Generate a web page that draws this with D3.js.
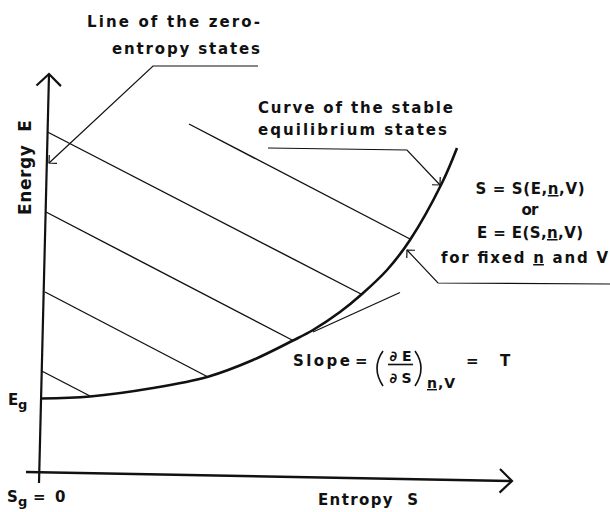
<!DOCTYPE html>
<html lang="en">
<head>
<meta charset="UTF-8">
<title>Energy versus entropy</title>
<script src="https://d3js.org/d3.v7.min.js"></script>
<style>
  body { margin: 0; background: white; }
  svg { display: block; }
  text { font-family: "DejaVu Sans", sans-serif; font-weight: bold; font-size: 15px; fill: #111; }
</style>
</head>
<body>
<svg id="chart" width="610" height="512"></svg>
<script>
// Curve of the stable equilibrium states (entropy S, energy E)
const curveS = [0.1, 5.0, 11.3, 16.8, 21.3, 25.3, 27.3, 30.0, 32.2, 34.7, 37.0, 40.2, 41.7];
const curveE = [7.75, 7.95, 8.8, 9.93, 11.6, 13.55, 14.6, 16.4, 18.2, 20.6, 23.6, 29.3, 32.8];

// Straight lines running from the zero-entropy line down to the curve
const hatchS0 = [14.9, 0.75, 0.6, 0.5, 0.17];
const hatchE0 = [35.2, 34.4, 26.4, 18.4, 10.5];
const hatchS1 = [37.0, 32.1, 25.3, 16.8, 5.0];
const hatchE1 = [23.7, 18.2, 13.55, 9.9, 8.0];

// Tangent line at the curve (slope = T)
const tangentS = [27.3, 36.0];
const tangentE = [14.4, 18.35];

// Axes (the scan is a little skewed)
const yAxisS = [-0.1, 0.9];
const yAxisE = [-0.7, 40.2];
const xAxisS = [-1.4, 47.2];
const xAxisE = [0.4, -0.5];

// Ground state energy
const Eg = 7.75;

const svg = d3.select("#chart");
const x = d3.scaleLinear().domain([0, 50]).range([40, 540]);
const y = d3.scaleLinear().domain([0, 40]).range([476, 76]);
const ink = "#111";

const line = d3.line().x(d => x(d[0])).y(d => y(d[1]));

function seg(S, E, w) {
  svg.append("path")
    .attr("d", line(d3.zip(S, E)))
    .attr("fill", "none")
    .attr("stroke", ink)
    .attr("stroke-width", w);
}

// arrow head barbs at the tip, opening back along the shaft
function head(tip, from, len, half, w) {
  let tx = x(tip[0]), ty = y(tip[1]);
  let a = Math.atan2(y(from[1]) - ty, x(from[0]) - tx);
  let h = half * Math.PI / 180;
  let p = [a - h, a + h].map(b => [tx + len * Math.cos(b), ty + len * Math.sin(b)]);
  svg.append("path")
    .attr("d", `M${p[0][0]},${p[0][1]}L${tx},${ty}L${p[1][0]},${p[1][1]}`)
    .attr("fill", "none")
    .attr("stroke", ink)
    .attr("stroke-width", w)
    .attr("stroke-linejoin", "miter");
}

// axes
seg(yAxisS, yAxisE, 2.2);
head([yAxisS[1], yAxisE[1]], [yAxisS[0], yAxisE[0]], 17, 46, 2.2);
seg(xAxisS, xAxisE, 2.4);
head([xAxisS[1], xAxisE[1]], [xAxisS[0], xAxisE[0]], 17, 44, 2.2);

// hatch lines
hatchS0.forEach((s, i) => seg([s, hatchS1[i]], [hatchE0[i], hatchE1[i]], 1.4));

// tangent
seg(tangentS, tangentE, 1.3);

// stable equilibrium curve
svg.append("path")
  .attr("d", d3.line().x(d => x(d[0])).y(d => y(d[1])).curve(d3.curveCatmullRom)(d3.zip(curveS, curveE)))
  .attr("fill", "none")
  .attr("stroke", ink)
  .attr("stroke-width", 2.6);

// leaders to the annotations
const leaders = [
  {S: [21.8, 11.3, 0.9], E: [41.0, 41.0, 31.3]},
  {S: [22.8, 36.7, 40.0], E: [32.8, 32.6, 29.1]},
  {S: [57.0, 39.8, 36.7], E: [19.2, 19.3, 22.6]}
];
leaders.forEach(l => {
  seg(l.S, l.E, 1.2);
  let n = l.S.length - 1;
  head([l.S[n], l.E[n]], [l.S[n - 1], l.E[n - 1]], 8, 45, 1.2);
});

// text helper
function label(str, px, py, anchor, len, size) {
  let t = svg.append("text")
    .attr("x", px).attr("y", py)
    .attr("text-anchor", anchor || "start")
    .text(str);
  if (size) t.style("font-size", size + "px");
  if (len) t.attr("textLength", len).attr("lengthAdjust", "spacing");
  return t;
}

// underlined n inside a text line
function formula(parts, px, py, anchor, len) {
  let t = svg.append("text")
    .attr("x", px).attr("y", py)
    .attr("text-anchor", anchor)
    .attr("textLength", len).attr("lengthAdjust", "spacing");
  parts.forEach((p, i) => {
    let ts = t.append("tspan").text(p);
    if (i % 2 === 1) ts.style("text-decoration", "underline");
  });
  return t;
}

label("Line of the zero-", 260, 27, "end", 173);
label("entropy states", 260, 54, "end", 148);

label("Curve of the stable", 258, 113, "start", 195);
label("equilibrium states", 258, 135, "start", 189);

formula(["S = S(E,", "n", ",V)"], 530, 194, "middle", 109);
label("or", 530, 215, "middle", 17);
formula(["E = E(S,", "n", ",V)"], 530, 238, "middle", 106);
formula(["for fixed ", "n", " and V"], 441, 263, "start", 167);

// slope label
label("Slope", 293, 366, "start", 57);
label("=", 355, 366, "start");
svg.append("path").attr("d", "M383,351Q371,368 383,386").attr("fill", "none").attr("stroke", ink).attr("stroke-width", 1.6);
label("\u2202E", 400.5, 361, "middle", 22, 14);
svg.append("line").attr("x1", 388).attr("x2", 413).attr("y1", 364.5).attr("y2", 364.5).attr("stroke", ink).attr("stroke-width", 1.6);
label("\u2202S", 400.5, 383, "middle", 22, 14);
svg.append("path").attr("d", "M415,351Q427,368 415,386").attr("fill", "none").attr("stroke", ink).attr("stroke-width", 1.6);
let sub = svg.append("text").attr("x", 427).attr("y", 388).style("font-size", "14px")
  .attr("textLength", 28).attr("lengthAdjust", "spacing");
sub.append("tspan").text("n").style("text-decoration", "underline");
sub.append("tspan").text(",V");
label("=", 466, 366, "start");
label("T", 500, 366, "start");

// axis labels
label("E", 8, y(Eg) + 6, "start");
label("g", 18, y(Eg) + 10, "start", null, 13);
label("S", 7, 502, "start");
label("g", 18, 506, "start", null, 13);
label("=", 33, 502, "start");
label("0", 55, 502, "start");

label("Entropy\u00a0\u00a0S", 318, 505, "start", 100);
svg.append("text")
  .attr("transform", "translate(31,167.5) rotate(-90)")
  .attr("text-anchor", "middle")
  .attr("textLength", 95).attr("lengthAdjust", "spacing")
  .style("font-size", "17px")
  .text("Energy\u00a0\u00a0E");
</script>
</body>
</html>
